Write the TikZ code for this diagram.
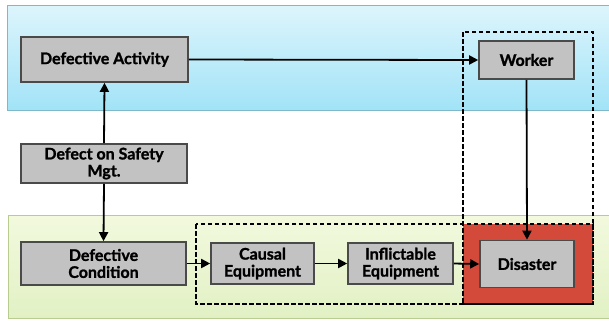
\documentclass[tikz,border=0pt]{standalone}
\usepackage{fontspec}
\setmainfont{Lato}[BoldFeatures={FakeBold=1.3}]
\usetikzlibrary{arrows.meta}
\definecolor{boxgray}{HTML}{C2C2C2}
\definecolor{boxedge}{HTML}{4A4A4A}
\definecolor{disred}{HTML}{D44A3A}
\definecolor{bluetop}{HTML}{DDF5FC}
\definecolor{bluebot}{HTML}{A2E3F7}
\definecolor{blueedge}{HTML}{7FB9C9}
\definecolor{greentop}{HTML}{F2F9DE}
\definecolor{greenbot}{HTML}{E2F1C4}
\definecolor{greenedge}{HTML}{B9CC8F}
\tikzset{
  stage/.style={draw=boxedge, line width=1.6pt, fill=boxgray, align=center,
    font=\bfseries\fontsize{16}{17}\selectfont, inner sep=1pt},
  flow/.style={line width=1.8pt, -{Triangle[length=9pt,width=9pt]}},
  group/.style={line width=1.6pt, dash pattern=on 4.5pt off 2.5pt}
}
\begin{document}
\begin{tikzpicture}[x=1pt,y=-1pt]
\useasboundingbox (0,0) rectangle (609,322);
% background bands
\shade[top color=bluetop, bottom color=bluebot, draw=blueedge, line width=1pt]
  (7,5) rectangle (612,110);
\shade[top color=greentop, bottom color=greenbot, draw=greenedge, line width=1pt]
  (8,215) rectangle (612,318);
% highlighted disaster area
\fill[disred] (463,224) rectangle (593,304);
% nodes
\node[stage, minimum width=167pt, minimum height=45pt] (act) at (104.5,59.5) {Defective Activity};
\node[stage, minimum width=95pt, minimum height=38pt] (worker) at (526.5,60) {Worker};
\node[stage, minimum width=166pt, minimum height=39pt] (safety) at (104,163.5) {Defect on Safety\\Mgt.};
\node[stage, minimum width=165pt, minimum height=43pt] (cond) at (103.5,263.5) {Defective\\Condition};
\node[stage, minimum width=103pt, minimum height=41pt] (causal) at (262.5,263.5) {Causal\\Equipment};
\node[stage, minimum width=105pt, minimum height=41pt] (infl) at (400.5,263.5) {Inflictable\\Equipment};
\node[stage, minimum width=94pt, minimum height=47pt] (dis) at (527,264) {Disaster};
% dashed groupings
\draw[group] (463,32) rectangle (593,304);
\draw[group] (196,224) rectangle (593,304);
% connectors
\draw[flow] (act.east) -- (worker.west);
\draw[flow] (safety.north) -- (act.south);
\draw[flow] (safety.south) -- (cond.north);
\draw[flow] (worker.south) -- (dis.north);
\draw[flow] (cond.east) -- (causal.west);
\draw[flow] (causal.east) -- (infl.west);
\draw[flow] (infl.east) -- (dis.west);
\end{tikzpicture}
\end{document}
